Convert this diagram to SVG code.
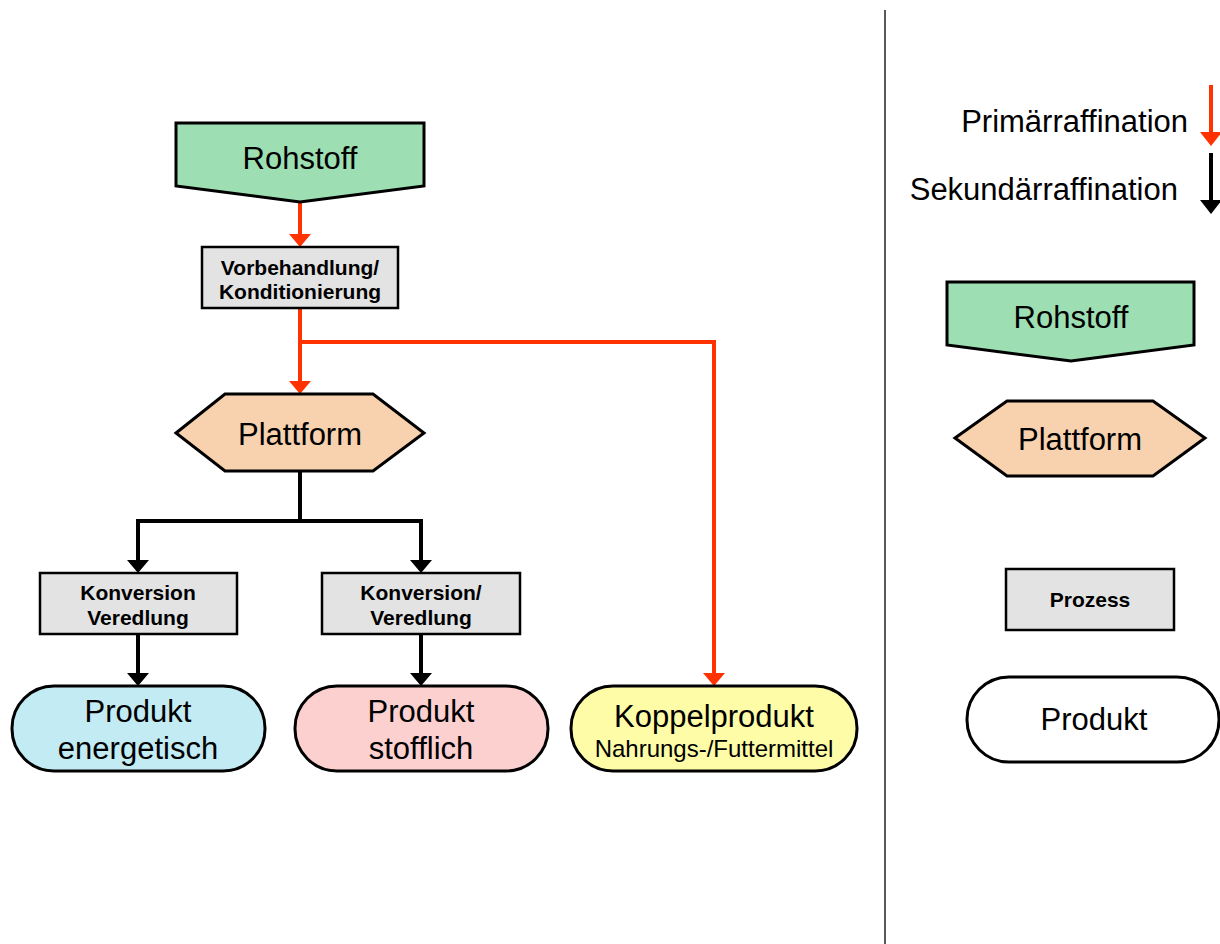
<svg xmlns="http://www.w3.org/2000/svg" width="1220" height="944" viewBox="0 0 1220 944">
  <style>
    .shape { stroke: #000; stroke-width: 3; stroke-linejoin: miter; }
    .proc { fill: #E3E3E3; stroke: #000; stroke-width: 2.5; }
    .lbl { font-family: "Liberation Sans", Arial, sans-serif; fill: #000; text-anchor: middle; }
    .big { font-size: 31px; }
    .small { font-size: 21px; font-weight: bold; }
    .end { text-anchor: end; }
    .red { fill: none; stroke: #FF3300; stroke-width: 4; }
    .blk { fill: none; stroke: #000; stroke-width: 4; }
    .headRed { fill: #FF3300; }
    .headBlk { fill: #000; }
  </style>

  <rect width="1220" height="944" fill="#fff"/>

  <!-- connectors -->
  <g id="connectors">
    <line class="red" x1="300" y1="202" x2="300" y2="234"/>
    <path class="headRed" d="M289,234 L311,234 L300,247 Z"/>
    <line class="red" x1="300" y1="308" x2="300" y2="381"/>
    <path class="headRed" d="M289,381 L311,381 L300,394 Z"/>
    <polyline class="red" points="300,342 714,342 714,673"/>
    <path class="headRed" d="M703,673 L725,673 L714,686 Z"/>

    <polyline class="blk" points="300,471 300,521"/>
    <polyline class="blk" points="138,560 138,521 421,521 421,560"/>
    <path class="headBlk" d="M127,560 L149,560 L138,573 Z"/>
    <path class="headBlk" d="M410,560 L432,560 L421,573 Z"/>
    <line class="blk" x1="138" y1="634" x2="138" y2="673"/>
    <path class="headBlk" d="M127,673 L149,673 L138,686 Z"/>
    <line class="blk" x1="421" y1="634" x2="421" y2="673"/>
    <path class="headBlk" d="M410,673 L432,673 L421,686 Z"/>
  </g>

  <!-- flow nodes -->
  <g id="rohstoff">
    <path class="shape" d="M176,123 L424,123 L424,186 L300,202 L176,186 Z" fill="#9DDEB3"/>
    <text class="lbl big" x="300" y="169">Rohstoff</text>
  </g>
  <g id="vorbehandlung">
    <rect class="proc" x="202" y="247" width="196" height="61"/>
    <text class="lbl small" x="300" y="275">Vorbehandlung/</text>
    <text class="lbl small" x="300" y="299">Konditionierung</text>
  </g>
  <g id="plattform">
    <path class="shape" d="M176,433 L225,394 L373,394 L424,433 L373,471 L225,471 Z" fill="#F8D1AE"/>
    <text class="lbl big" x="300" y="445">Plattform</text>
  </g>
  <g id="konversion-links">
    <rect class="proc" x="40" y="573" width="197" height="61"/>
    <text class="lbl small" x="138" y="600">Konversion</text>
    <text class="lbl small" x="138" y="625">Veredlung</text>
  </g>
  <g id="konversion-rechts">
    <rect class="proc" x="322" y="573" width="198" height="61"/>
    <text class="lbl small" x="421" y="600">Konversion/</text>
    <text class="lbl small" x="421" y="625">Veredlung</text>
  </g>
  <g id="produkt-energetisch">
    <rect class="shape" x="12" y="686" width="253" height="85" rx="42" ry="42" fill="#C2EBF4"/>
    <text class="lbl big" x="138" y="722">Produkt</text>
    <text class="lbl big" x="138" y="759">energetisch</text>
  </g>
  <g id="produkt-stofflich">
    <rect class="shape" x="295" y="686" width="253" height="85" rx="42" ry="42" fill="#FDD0D0"/>
    <text class="lbl big" x="421" y="722">Produkt</text>
    <text class="lbl big" x="421" y="759">stofflich</text>
  </g>
  <g id="koppelprodukt">
    <rect class="shape" x="571" y="686" width="286" height="85" rx="42" ry="42" fill="#FFFCA8"/>
    <text class="lbl big" x="714" y="727">Koppelprodukt</text>
    <text class="lbl" x="714" y="757" font-size="24">Nahrungs-/Futtermittel</text>
  </g>

  <!-- divider -->
  <line x1="885" y1="10" x2="885" y2="944" stroke="#222" stroke-width="1.5"/>

  <!-- legend -->
  <g id="legende-pfeile">
    <text class="lbl big end" x="1188" y="132">Primärraffination</text>
    <line x1="1211" y1="85" x2="1211" y2="132" stroke="#FF3300" stroke-width="4"/>
    <path class="headRed" d="M1200,132 L1222,132 L1211,146 Z"/>
    <text class="lbl big end" x="1178" y="200">Sekundärraffination</text>
    <line x1="1211" y1="153" x2="1211" y2="200" stroke="#000" stroke-width="4"/>
    <path class="headBlk" d="M1200,200 L1222,200 L1211,214 Z"/>
  </g>
  <g id="legende-rohstoff">
    <path class="shape" d="M947,282 L1194,282 L1194,345 L1071,361 L947,345 Z" fill="#9DDEB3"/>
    <text class="lbl big" x="1071" y="328">Rohstoff</text>
  </g>
  <g id="legende-plattform">
    <path class="shape" d="M955,438 L1007,401 L1153,401 L1205,438 L1153,476 L1007,476 Z" fill="#F8D1AE"/>
    <text class="lbl big" x="1080" y="450">Plattform</text>
  </g>
  <g id="legende-prozess">
    <rect class="proc" x="1006" y="569" width="168" height="61"/>
    <text class="lbl small" x="1090" y="607">Prozess</text>
  </g>
  <g id="legende-produkt">
    <rect class="shape" x="967" y="677" width="252" height="85" rx="42" ry="42" fill="#fff"/>
    <text class="lbl big" x="1094" y="730">Produkt</text>
  </g>
</svg>
